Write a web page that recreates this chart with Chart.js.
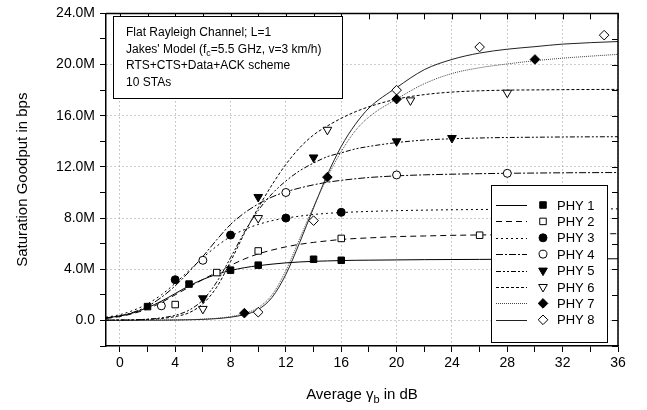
<!DOCTYPE html>
<html>
<head>
<meta charset="utf-8">
<script src="https://cdn.jsdelivr.net/npm/chart.js@4"></script>
<style>
  html, body { margin: 0; padding: 0; background: #fff; }
  #wrap { width: 647px; height: 410px; }
</style>
</head>
<body>
<div id="wrap"><canvas id="chart" width="647" height="410"></canvas></div>
<script>
// --- data (values in Mbps) ---
const seriesNames = ['PHY 1', 'PHY 2', 'PHY 3', 'PHY 4', 'PHY 5', 'PHY 6', 'PHY 7', 'PHY 8'];

// analytical curves, all sampled at the same SNR values
const curveX = [-1, 0, 1, 2, 3, 4, 5, 6, 7, 8, 9, 10, 11, 12, 13, 14, 15, 16, 17, 18, 20, 22, 24, 26, 28, 30, 32, 36];
const phy1Curve = [0.2, 0.35, 0.6, 1.0, 1.5, 2.1, 2.7, 3.2, 3.6, 3.9, 4.12, 4.28, 4.4, 4.5, 4.57, 4.62, 4.65, 4.68, 4.7, 4.71, 4.73, 4.75, 4.76, 4.77, 4.78, 4.79, 4.8, 4.82];
const phy2Curve = [0.15, 0.3, 0.55, 0.9, 1.4, 2.0, 2.6, 3.2, 3.75, 4.3, 4.8, 5.2, 5.5, 5.75, 5.95, 6.1, 6.22, 6.33, 6.4, 6.45, 6.55, 6.6, 6.65, 6.68, 6.7, 6.72, 6.74, 6.78];
const phy3Curve = [0.25, 0.45, 0.8, 1.3, 2.0, 2.9, 3.9, 4.9, 5.8, 6.55, 7.1, 7.5, 7.8, 8.0, 8.15, 8.28, 8.37, 8.43, 8.48, 8.52, 8.58, 8.62, 8.65, 8.67, 8.68, 8.69, 8.7, 8.72];
const phy4Curve = [0.2, 0.35, 0.65, 1.1, 1.8, 2.7, 3.8, 5.0, 6.3, 7.5, 8.4, 9.1, 9.65, 10.05, 10.35, 10.6, 10.8, 10.95, 11.07, 11.17, 11.3, 11.38, 11.43, 11.47, 11.5, 11.52, 11.54, 11.56];
const phy5Curve = [0.02, 0.03, 0.05, 0.1, 0.2, 0.4, 0.8, 1.6, 3.0, 4.9, 6.9, 8.6, 9.9, 10.9, 11.7, 12.3, 12.8, 13.1, 13.4, 13.6, 13.9, 14.1, 14.2, 14.26, 14.3, 14.32, 14.34, 14.36];
const phy6Curve = [0.02, 0.03, 0.04, 0.08, 0.15, 0.3, 0.6, 1.3, 2.6, 4.6, 6.8, 8.8, 10.6, 12.2, 13.5, 14.5, 15.2, 15.8, 16.3, 16.7, 17.3, 17.65, 17.85, 17.95, 18.0, 18.02, 18.04, 18.06];
const phy7Curve = [0.01, 0.01, 0.02, 0.02, 0.03, 0.04, 0.06, 0.1, 0.17, 0.3, 0.55, 1.0, 2.0, 3.9, 6.4, 8.9, 11.2, 13.2, 14.8, 15.9, 17.3, 18.5, 19.3, 19.75, 20.05, 20.3, 20.5, 20.8];
const phy8Curve = [0.01, 0.01, 0.01, 0.02, 0.02, 0.03, 0.05, 0.08, 0.14, 0.25, 0.45, 0.85, 1.8, 3.6, 6.1, 8.8, 11.4, 13.6, 15.3, 16.6, 18.2, 19.6, 20.4, 20.9, 21.2, 21.4, 21.6, 21.8];

// simulation points
const phy1X = [2, 5, 8, 10, 14, 16];
const phy1Y = [1.08, 2.84, 3.93, 4.32, 4.78, 4.7];
const phy2X = [4, 7, 10, 16, 26];
const phy2Y = [1.24, 3.74, 5.43, 6.41, 6.66];
const phy3X = [4, 8, 12, 16];
const phy3Y = [3.18, 6.67, 8.0, 8.45];
const phy4X = [3, 6, 12, 20, 28];
const phy4Y = [1.14, 4.7, 10.0, 11.37, 11.5];
const phy5X = [6, 10, 14, 20, 24];
const phy5Y = [1.73, 9.65, 12.74, 14.0, 14.26];
const phy6X = [6, 10, 15, 21, 28];
const phy6Y = [0.9, 8.0, 14.9, 17.2, 17.8];
const phy7X = [9, 15, 20, 30];
const phy7Y = [0.57, 11.2, 17.3, 20.4];
const phy8X = [10, 14, 20, 26, 35];
const phy8Y = [0.64, 7.8, 18.0, 21.37, 22.3];

// axes
const xTickValues = [0, 2, 4, 6, 8, 10, 12, 14, 16, 18, 20, 22, 24, 26, 28, 30, 32, 34, 36];
const xLabelValues = [0, 4, 8, 12, 16, 20, 24, 28, 32, 36];
const yTickValues = [-2, 0, 2, 4, 6, 8, 10, 12, 14, 16, 18, 20, 22, 24];
const yLabelValues = [0, 4, 8, 12, 16, 20, 24];
const yLabelTexts = ['0.0', '4.0M', '8.0M', '12.0M', '16.0M', '20.0M', '24.0M'];

const noteLines = ['Flat Rayleigh Channel; L=1', "Jakes' Model (f", 'RTS+CTS+Data+ACK scheme', '10 STAs'];

const FONT = "'Liberation Sans', Arial, Helvetica, sans-serif";

// styles per series
const curveStyles = [
    { dash: [], color: '#000' },
    { dash: [6, 4], color: '#000' },
    { dash: [2, 3], color: '#000' },
    { dash: [7, 2, 2, 2], color: '#000' },
    { dash: [5, 2, 2, 2, 2, 2], color: '#000' },
    { dash: [3, 2], color: '#000' },
    { dash: [1, 1], color: '#444' },
    { dash: [], color: '#222' }
];
const markerStyles = [
    { style: 'rect', radius: 4.6, fill: '#000', rot: 0 },
    { style: 'rect', radius: 4.6, fill: '#fff', rot: 0 },
    { style: 'circle', radius: 4, fill: '#000', rot: 0 },
    { style: 'circle', radius: 4, fill: '#fff', rot: 0 },
    { style: 'triangle', radius: 5, fill: '#000', rot: 180 },
    { style: 'triangle', radius: 5, fill: '#fff', rot: 180 },
    { style: 'rectRot', radius: 4.8, fill: '#000', rot: 0 },
    { style: 'rectRot', radius: 4.8, fill: '#fff', rot: 0 }
];

const curves = [phy1Curve, phy2Curve, phy3Curve, phy4Curve, phy5Curve, phy6Curve, phy7Curve, phy8Curve];
const pointsX = [phy1X, phy2X, phy3X, phy4X, phy5X, phy6X, phy7X, phy8X];
const pointsY = [phy1Y, phy2Y, phy3Y, phy4Y, phy5Y, phy6Y, phy7Y, phy8Y];

function buildDatasets() {
    const sets = [];
    curves.forEach((ys, i) => {
        sets.push({
            label: seriesNames[i] + ' fit',
            data: curveX.map((x, k) => ({ x: x, y: ys[k] })),
            borderColor: curveStyles[i].color,
            borderDash: curveStyles[i].dash,
            borderWidth: 1,
            pointRadius: 0,
            cubicInterpolationMode: 'monotone',
            fill: false,
            order: 2
        });
    });
    pointsX.forEach((xs, i) => {
        const m = markerStyles[i];
        sets.push({
            label: seriesNames[i],
            data: xs.map((x, k) => ({ x: x, y: pointsY[i][k] })),
            showLine: false,
            pointStyle: m.style,
            pointRadius: m.radius,
            rotation: m.rot,
            pointBackgroundColor: m.fill,
            pointBorderColor: '#000',
            pointBorderWidth: 1,
            order: 1
        });
    });
    return sets;
}

// top/right frame with inward ticks
const framePlugin = {
    id: 'frame',
    afterDraw(chart) {
        const { ctx, chartArea: a, scales } = chart;
        ctx.save();
        ctx.strokeStyle = '#000';
        ctx.lineWidth = 1.5;
        ctx.beginPath();
        ctx.moveTo(a.left, a.top);
        ctx.lineTo(a.right, a.top);
        ctx.lineTo(a.right, a.bottom);
        ctx.stroke();
        ctx.lineWidth = 1;
        ctx.beginPath();
        xTickValues.forEach(v => {
            const px = Math.round(scales.x.getPixelForValue(v)) + 0.5;
            ctx.moveTo(px, a.top);
            ctx.lineTo(px, a.top + 6);
        });
        yTickValues.forEach(v => {
            const py = Math.round(scales.y.getPixelForValue(v)) + 0.5;
            ctx.moveTo(a.right, py);
            ctx.lineTo(a.right - 6, py);
        });
        ctx.stroke();
        ctx.restore();
    }
};

// x title with subscript, and the note box
const textPlugin = {
    id: 'texts',
    afterDraw(chart) {
        const { ctx, chartArea: a } = chart;
        ctx.save();
        ctx.fillStyle = '#000';
        ctx.textBaseline = 'alphabetic';

        // x axis title
        const big = '15px ' + FONT, small = '11px ' + FONT;
        const p1 = 'Average \u03b3', p2 = 'b', p3 = ' in dB';
        ctx.font = big;
        const w1 = ctx.measureText(p1).width, w3 = ctx.measureText(p3).width;
        ctx.font = small;
        const w2 = ctx.measureText(p2).width;
        let x0 = (a.left + a.right) / 2 - (w1 + w2 + w3) / 2;
        const yb = 399;
        ctx.font = big;
        ctx.fillText(p1, x0, yb);
        ctx.font = small;
        ctx.fillText(p2, x0 + w1, yb + 4);
        ctx.font = big;
        ctx.fillText(p3, x0 + w1 + w2, yb);

        // note box
        const bx = 113.5, by = 16.5, bw = 229, bh = 82;
        ctx.fillStyle = '#fff';
        ctx.fillRect(bx, by, bw, bh);
        ctx.strokeStyle = '#000';
        ctx.lineWidth = 1;
        ctx.strokeRect(bx, by, bw, bh);
        ctx.fillStyle = '#000';
        ctx.font = '12px ' + FONT;
        const tx = 126;
        const rows = [36, 52.5, 69, 85.5];
        ctx.fillText(noteLines[0], tx, rows[0]);
        ctx.fillText(noteLines[1], tx, rows[1]);
        let wj = ctx.measureText(noteLines[1]).width;
        ctx.font = '9px ' + FONT;
        ctx.fillText('c', tx + wj, rows[1] + 3);
        let wc = ctx.measureText('c').width;
        ctx.font = '12px ' + FONT;
        ctx.fillText('=5.5 GHz, v=3 km/h)', tx + wj + wc, rows[1]);
        ctx.fillText(noteLines[2], tx, rows[2]);
        ctx.fillText(noteLines[3], tx, rows[3]);
        ctx.restore();
    }
};

// legend: line sample, marker, name
const legendPlugin = {
    id: 'phyLegend',
    afterDraw(chart) {
        const { ctx } = chart;
        const lx = 491.5, ly = 185.5, lw = 116, lh = 157;
        ctx.save();
        ctx.fillStyle = '#fff';
        ctx.fillRect(lx, ly, lw, lh);
        ctx.strokeStyle = '#000';
        ctx.lineWidth = 1;
        ctx.strokeRect(lx, ly, lw, lh);
        seriesNames.forEach((name, i) => {
            const y = 205 + i * 16.4;
            ctx.save();
            ctx.strokeStyle = curveStyles[i].color;
            ctx.setLineDash(curveStyles[i].dash);
            ctx.lineWidth = 1;
            ctx.beginPath();
            ctx.moveTo(496, Math.round(y) + 0.5);
            ctx.lineTo(527, Math.round(y) + 0.5);
            ctx.stroke();
            ctx.restore();
            const m = markerStyles[i];
            ctx.save();
            ctx.fillStyle = m.fill;
            ctx.strokeStyle = '#000';
            ctx.lineWidth = 1;
            Chart.helpers.drawPoint(ctx, {
                pointStyle: m.style, rotation: m.rot, radius: m.radius, borderWidth: 1
            }, 543, y);
            ctx.restore();
            ctx.fillStyle = '#000';
            ctx.font = '13px ' + FONT;
            ctx.textBaseline = 'middle';
            ctx.fillText(name, 557, y + 1);
        });
        ctx.restore();
    }
};

function gridColor(ctx) {
    const v = ctx.tick ? ctx.tick.value : null;
    return (v !== null && v % 4 === 0) ? '#9a9a9a' : 'rgba(0,0,0,0)';
}

new Chart(document.getElementById('chart'), {
    type: 'line',
    data: { datasets: buildDatasets() },
    options: {
        responsive: false,
        animation: false,
        devicePixelRatio: 1,
        layout: { padding: { top: 9, right: 29, left: 0, bottom: 0 } },
        plugins: {
            legend: { display: false },
            tooltip: { enabled: false }
        },
        scales: {
            x: {
                type: 'linear',
                min: -1,
                max: 36,
                afterBuildTicks: scale => { scale.ticks = xTickValues.map(v => ({ value: v })); },
                afterFit: scale => { scale.height = 64; },
                ticks: {
                    autoSkip: false,
                    maxRotation: 0,
                    padding: 3,
                    color: '#000',
                    font: { family: FONT, size: 14 },
                    callback: v => xLabelValues.includes(v) ? String(v) : ''
                },
                grid: {
                    color: gridColor,
                    lineWidth: 1,
                    tickColor: '#000',
                    tickLength: 6,
                    drawTicks: true
                },
                border: { display: true, color: '#000', width: 1.5, dash: [1, 3] }
            },
            y: {
                type: 'linear',
                min: -2,
                max: 24,
                afterBuildTicks: scale => { scale.ticks = yTickValues.map(v => ({ value: v })); },
                afterFit: scale => { scale.width = 106; },
                ticks: {
                    autoSkip: false,
                    padding: 5,
                    color: '#000',
                    font: { family: FONT, size: 14 },
                    callback: v => {
                        const k = yLabelValues.indexOf(v);
                        return k >= 0 ? yLabelTexts[k] : '';
                    }
                },
                grid: {
                    color: gridColor,
                    lineWidth: 1,
                    tickColor: '#000',
                    tickLength: 6
                },
                border: { display: true, color: '#000', width: 1.5, dash: [1, 3] },
                title: {
                    display: true,
                    text: 'Saturation Goodput in bps',
                    color: '#000',
                    font: { family: FONT, size: 15 },
                    padding: { top: 14, bottom: 0 }
                }
            }
        }
    },
    plugins: [framePlugin, textPlugin, legendPlugin]
});
</script>
</body>
</html>
